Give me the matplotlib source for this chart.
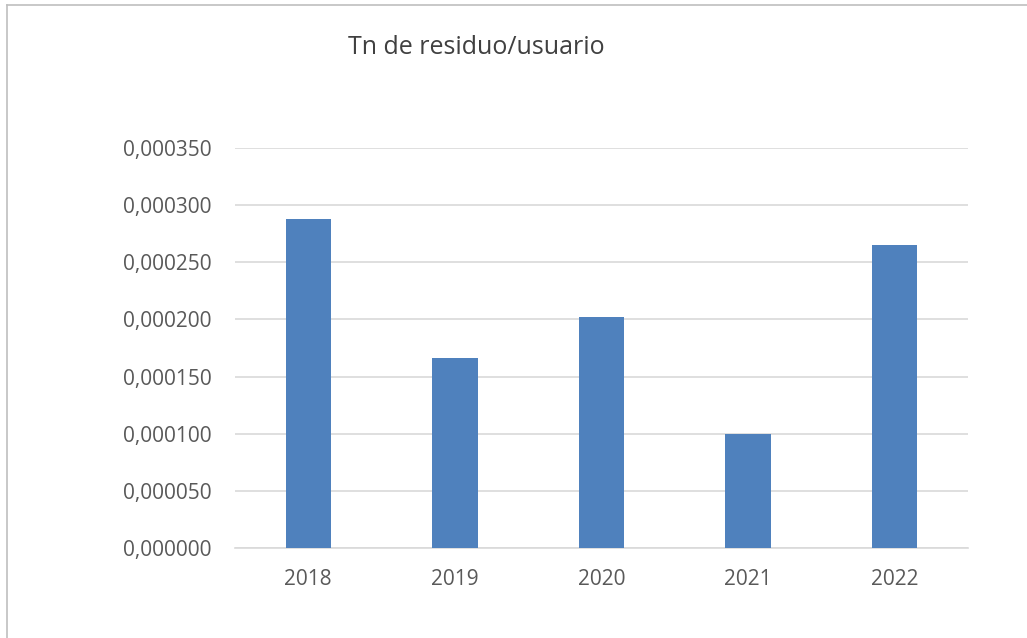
import matplotlib.pyplot as plt
from matplotlib.lines import Line2D
from matplotlib.ticker import FuncFormatter

years = ['2018', '2019', '2020', '2021', '2022']
tn_per_user = [0.000288, 0.000166, 0.000202, 0.000100, 0.000265]
y_ticks = [0.0, 0.00005, 0.0001, 0.00015, 0.0002, 0.00025, 0.0003, 0.00035]

plt.rcParams['font.family'] = ['Open Sans', 'DejaVu Sans']

fig = plt.figure(figsize=(10.27, 6.38), dpi=100)
ax = fig.add_axes([235 / 1027, 1 - 548 / 638, 733 / 1027, 400 / 638])

bar_color = '#4F81BD'
ax.bar(range(len(years)), tn_per_user, width=0.31, color=bar_color, zorder=3)

ax.set_xlim(-0.5, len(years) - 0.5)
ax.set_ylim(0, 0.00035)
ax.set_yticks(y_ticks)
ax.yaxis.set_major_formatter(FuncFormatter(lambda v, p: f'{v:.6f}'.replace('.', ',')))
ax.set_xticks(range(len(years)))
ax.set_xticklabels(years)

ax.grid(axis='y', color='#D9D9D9', linewidth=1.2, zorder=0)
ax.set_axisbelow(True)
for s in ['top', 'right', 'left']:
    ax.spines[s].set_visible(False)
ax.spines['bottom'].set_color('#D9D9D9')
ax.spines['bottom'].set_linewidth(1.2)
ax.tick_params(axis='both', length=0, labelsize=15, labelcolor='#595959')
ax.tick_params(axis='y', pad=17)
ax.tick_params(axis='x', pad=15)

fig.text(476 / 1027, 1 - 47 / 638, 'Tn de residuo/usuario', ha='center', va='center',
         fontsize=18, color='#404040')

# chart frame (only top and left edges visible in the screenshot)
fig.add_artist(Line2D([7 / 1027, 1.0], [1 - 4.5 / 638, 1 - 4.5 / 638], color='#BFBFBF', linewidth=1.2))
fig.add_artist(Line2D([7 / 1027, 7 / 1027], [0.0, 1 - 4.5 / 638], color='#BFBFBF', linewidth=1.2))

fig.savefig('out.png', dpi=100, facecolor='white')
